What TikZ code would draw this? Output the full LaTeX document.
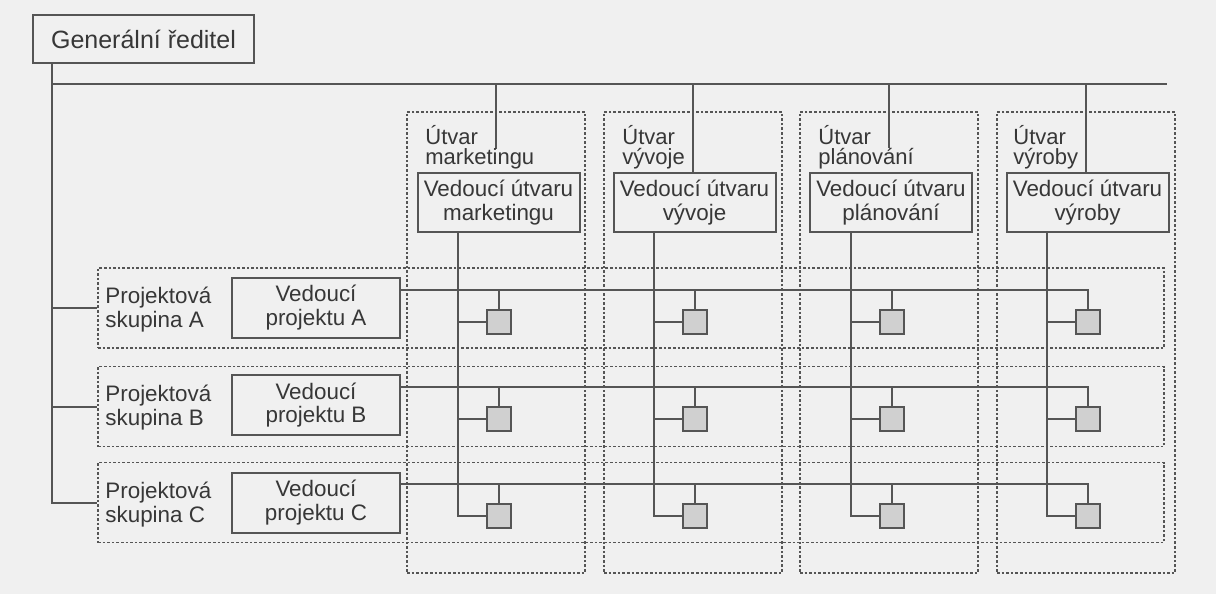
\documentclass[tikz,border=0pt]{standalone}
\usepackage{fontspec}
\setmainfont{Liberation Sans}
\definecolor{bgc}{RGB}{240,240,240}
\definecolor{lnc}{RGB}{85,85,85}
\definecolor{txc}{RGB}{55,55,55}
\definecolor{sqc}{RGB}{208,208,208}
\pgfdeclarelayer{back}
\pgfdeclarelayer{wires}
\pgfsetlayers{back,wires,main}
\setlength{\fboxsep}{0pt}
\newcommand{\cover}[1]{\colorbox{bgc}{\rule[-6pt]{0pt}{11pt}#1}}
\tikzset{
  solidbox/.style={draw=lnc, line width=1pt, fill=bgc, inner sep=0pt, text=txc, align=center, font=\fontsize{11.2}{11.6}\selectfont},
  dotbox/.style={draw=lnc, line width=0.8pt, dash pattern=on 1.3pt off 1pt, inner sep=0pt},
  wire/.style={draw=lnc, line width=1pt},
  sqbox/.style={draw=lnc, line width=1pt, fill=sqc, minimum size=12pt, inner sep=0pt},
  lbl/.style={inner sep=0pt, text=txc, align=left, font=\fontsize{11.2}{12}\selectfont},
  ulbl/.style={inner sep=0pt, text=txc, align=left, anchor=north west, font=\fontsize{11}{10}\selectfont},
}
\begin{document}
\begin{tikzpicture}[x=0.5pt,y=-0.5pt]
\useasboundingbox (0,0) rectangle (1216,594);
\begin{pgfonlayer}{back}
\fill[bgc] (0,0) rectangle (1216,594);
% department dotted boxes
\node[dotbox, minimum width=89pt, minimum height=230.5pt] (dM) at (496,342.5) {};
\node[dotbox, minimum width=89pt, minimum height=230.5pt] (dV) at (693,342.5) {};
\node[dotbox, minimum width=89pt, minimum height=230.5pt] (dP) at (889,342.5) {};
\node[dotbox, minimum width=89pt, minimum height=230.5pt] (dR) at (1086,342.5) {};
% project group dotted boxes
\node[dotbox, minimum width=533pt, minimum height=40pt] (pgA) at (631,308) {};
\node[dotbox, minimum width=533pt, minimum height=40pt] (pgB) at (631,406.5) {};
\node[dotbox, minimum width=533pt, minimum height=40pt] (pgC) at (631,502.5) {};
\end{pgfonlayer}

% department labels (drawn first so the head boxes sit on top)
\node[ulbl] (uM) at (425,125) {Útvar\\\cover{marketingu}};
\node[ulbl] (uV) at (622,125) {Útvar\\vývoje};
\node[ulbl] (uP) at (818,125) {Útvar\\\cover{plánování}};
\node[ulbl] (uR) at (1013,125) {Útvar\\výroby};

% general director
\node[solidbox, minimum width=110.5pt, minimum height=24pt, font=\fontsize{12.5}{14}\selectfont] (gr) at (143.5,39) {Generální ředitel};

% department heads
\node[solidbox, minimum width=81pt, minimum height=29.5pt] (vuM) at (498.5,202.5) {Vedoucí útvaru\\marketingu};
\node[solidbox, minimum width=81pt, minimum height=29.5pt] (vuV) at (694.5,202.5) {Vedoucí útvaru\\vývoje};
\node[solidbox, minimum width=81pt, minimum height=29.5pt] (vuP) at (891,202.5) {Vedoucí útvaru\\plánování};
\node[solidbox, minimum width=81pt, minimum height=29.5pt] (vuR) at (1087.5,202.5) {Vedoucí útvaru\\výroby};

% project leaders
\node[solidbox, minimum width=84pt, minimum height=30pt] (vpA) at (316,307.5) {Vedoucí\\projektu A};
\node[solidbox, minimum width=84pt, minimum height=30pt] (vpB) at (316,405) {Vedoucí\\projektu B};
\node[solidbox, minimum width=84pt, minimum height=30pt] (vpC) at (316,502.5) {Vedoucí\\projektu C};

% project group labels
\node[lbl, anchor=west] (tA) at (105,310) {Projektová\\skupina A};
\node[lbl, anchor=west] (tB) at (105,408) {Projektová\\skupina B};
\node[lbl, anchor=west] (tC) at (105,505) {Projektová\\skupina C};

% squares
\foreach \d/\L in {M/458,V/654,P/851,R/1047}{
  \foreach \r/\y in {A/322,B/419,C/516}{
    \node[sqbox] (s\r\d) at ({\L+41},\y) {};
  }
}

\coordinate (trunk) at (52,84);
\coordinate (busE) at (1167,84);
\coordinate (cM) at (458,232);
\coordinate (cV) at (654,232);
\coordinate (cP) at (851,232);
\coordinate (cR) at (1047,232);
\coordinate (rA) at (400,290);
\coordinate (rB) at (400,387);
\coordinate (rC) at (400,484);

\begin{pgfonlayer}{wires}
% trunk and branches to project groups
\draw[wire] (gr.south -| trunk) -- (trunk |- pgC.west) -- (pgC.west);
\draw[wire] (trunk |- pgA.west) -- (pgA.west);
\draw[wire] (trunk |- pgB.west) -- (pgB.west);
% top bus
\draw[wire] (trunk) -- (busE);
% drops to department heads
\foreach \d in {M,V,P,R}{
  \draw[wire] (d\d.north |- trunk) -- (vu\d.north -| d\d.north);
}
% department columns
\foreach \d in {M,V,P,R}{
  \draw[wire] (c\d) -- (c\d |- sC\d.west) -- (sC\d.west);
  \draw[wire] (c\d |- sA\d.west) -- (sA\d.west);
  \draw[wire] (c\d |- sB\d.west) -- (sB\d.west);
}
% project rows
\foreach \r in {A,B,C}{
  \draw[wire] (vp\r.east |- r\r) -- (r\r -| s\r R.north) -- (s\r R.north);
  \draw[wire] (r\r -| s\r M.north) -- (s\r M.north);
  \draw[wire] (r\r -| s\r V.north) -- (s\r V.north);
  \draw[wire] (r\r -| s\r P.north) -- (s\r P.north);
}
\end{pgfonlayer}
\end{tikzpicture}
\end{document}
